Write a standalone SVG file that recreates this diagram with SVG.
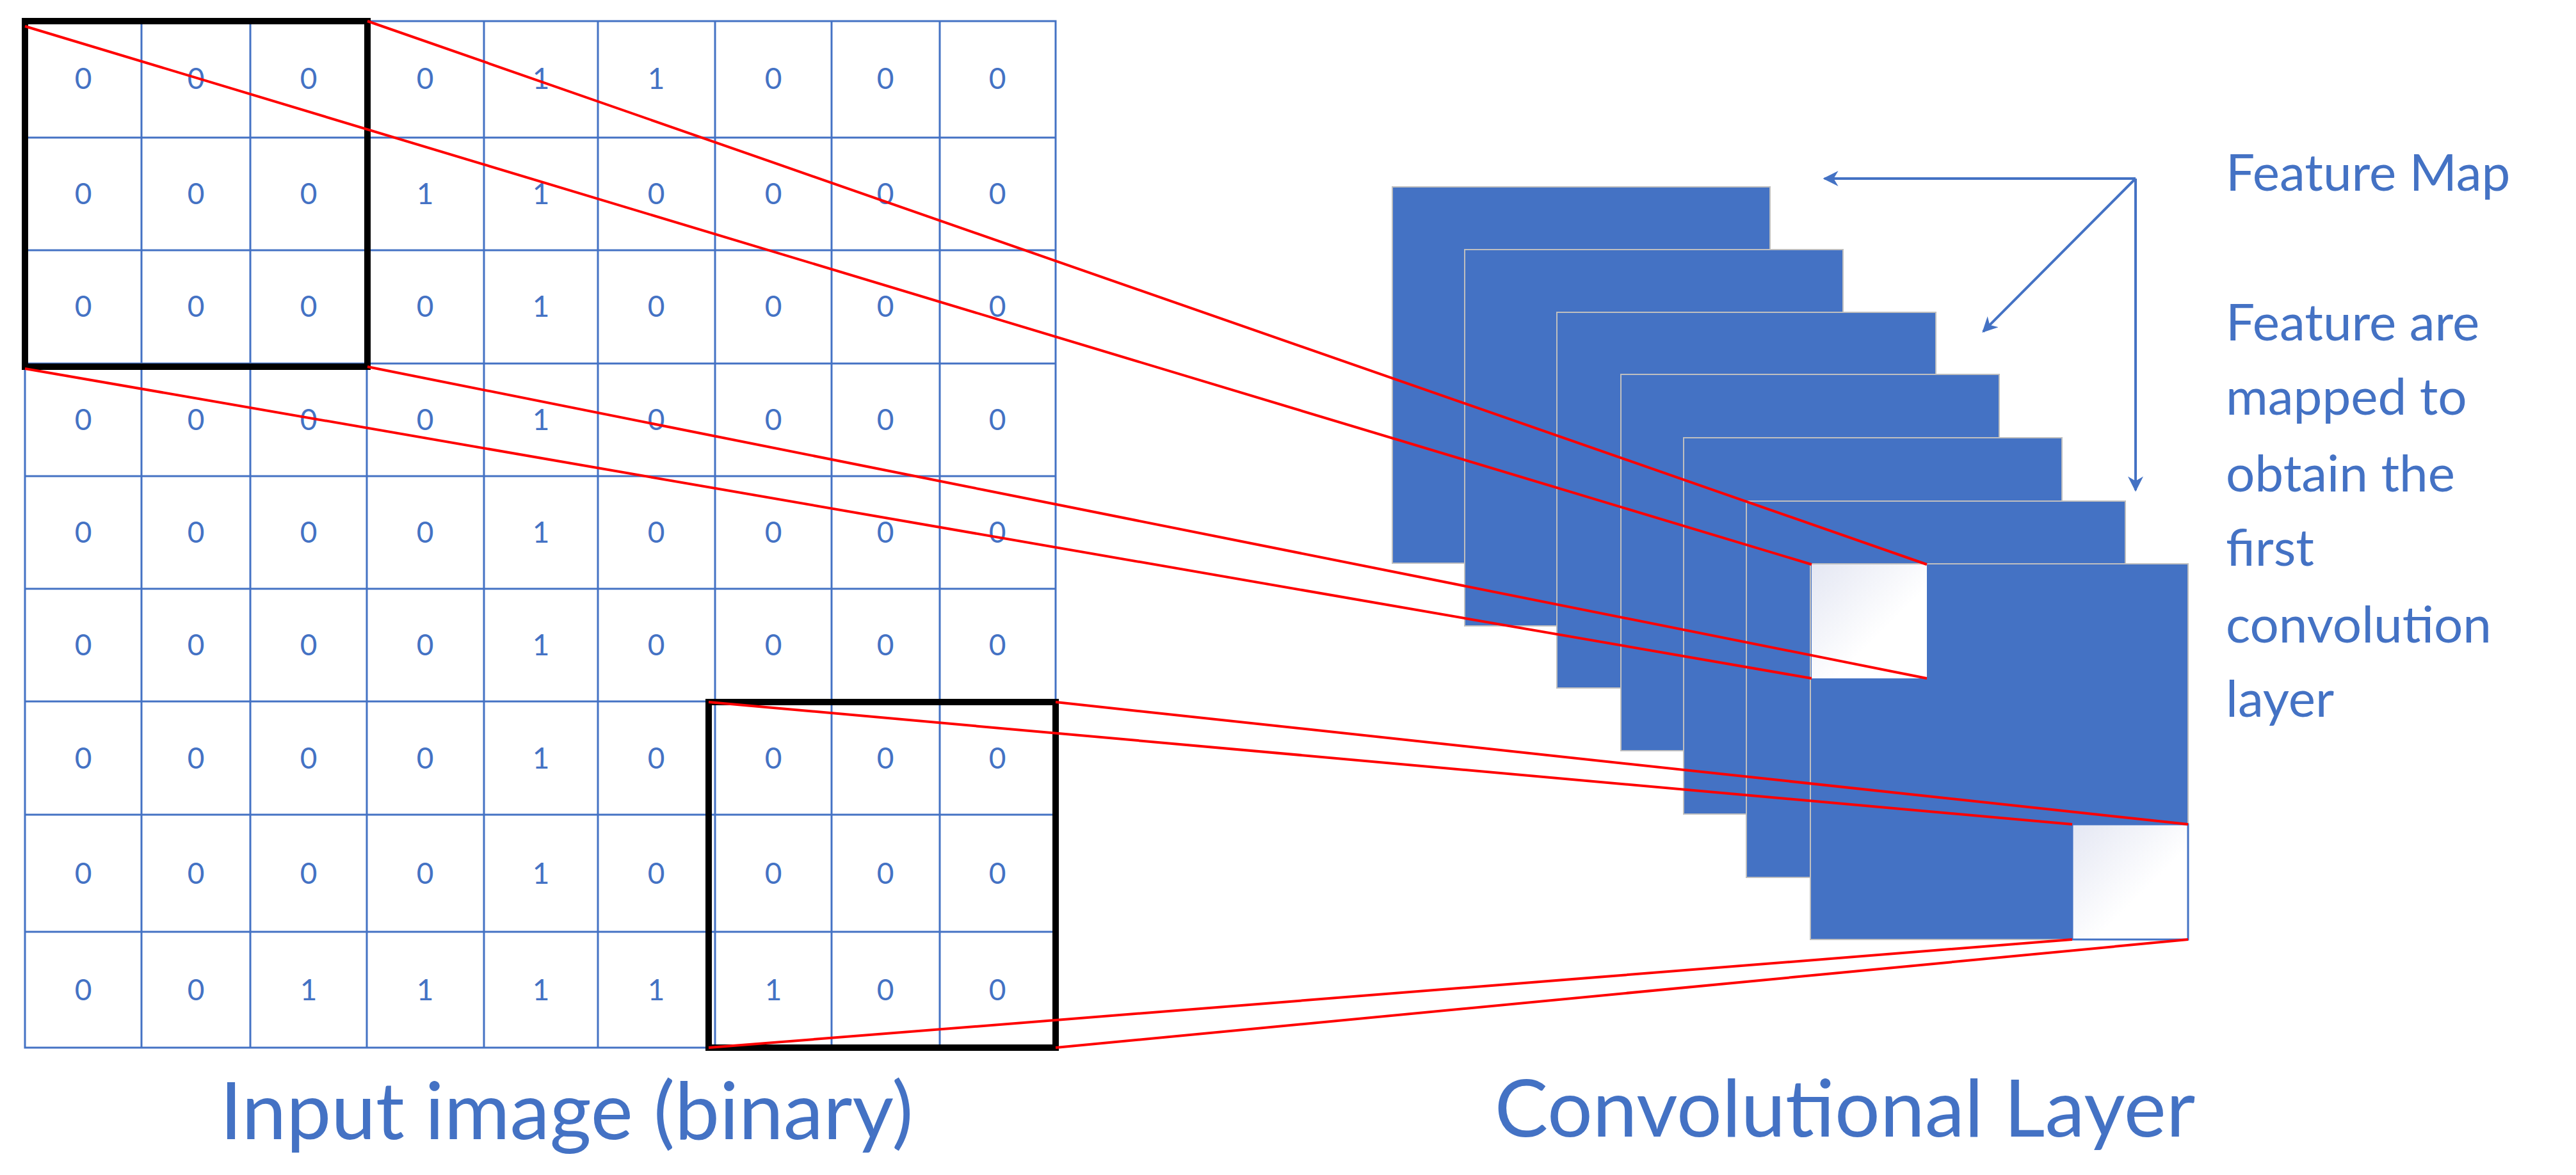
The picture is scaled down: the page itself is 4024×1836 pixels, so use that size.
<svg xmlns="http://www.w3.org/2000/svg" width="4024" height="1836" viewBox="0 0 4024 1836">
<style>
.g{stroke:#4472C4;stroke-width:3;fill:none}
.n{font-family:Lato,"Noto Sans",sans-serif;font-size:46px;fill:#4472C4;text-anchor:middle}
.t{font-family:Lato,"Noto Sans",sans-serif;fill:#4472C4}
.k{stroke:#000;stroke-width:10;fill:none}
.fm{fill:#4472C4;stroke:#BFBFBF;stroke-width:2}
.r{stroke:#FF0000;stroke-width:4;fill:none}
.a{stroke:#4472C4;stroke-width:4;fill:none}
</style>
<defs>
<marker id="ah" viewBox="0 0 10 10" refX="9" refY="5" markerWidth="6" markerHeight="6" markerUnits="strokeWidth" orient="auto"><path d="M0,0 L10,5 L0,10 L3,5 z" fill="#4472C4"/></marker>
<linearGradient id="wg" x1="0" y1="0" x2="1" y2="1"><stop offset="0" stop-color="#E4E7F3"/><stop offset="0.6" stop-color="#FFFFFF"/></linearGradient>
</defs>
<g id="grid">
<rect class="g" x="39" y="33" width="1610" height="1604"/>
<path class="g" d="M221,33V1637M391,33V1637M573,33V1637M756,33V1637M934,33V1637M1117,33V1637M1299,33V1637M1468,33V1637M39,215H1649M39,391H1649M39,568H1649M39,744H1649M39,920H1649M39,1096H1649M39,1273H1649M39,1456H1649"/>
<g class="n">
<text x="130" y="139">0</text><text x="306" y="139">0</text><text x="482" y="139">0</text><text x="664" y="139">0</text><text x="845" y="139">1</text><text x="1025" y="139">1</text><text x="1208" y="139">0</text><text x="1383" y="139">0</text><text x="1558" y="139">0</text>
<text x="130" y="319">0</text><text x="306" y="319">0</text><text x="482" y="319">0</text><text x="664" y="319">1</text><text x="845" y="319">1</text><text x="1025" y="319">0</text><text x="1208" y="319">0</text><text x="1383" y="319">0</text><text x="1558" y="319">0</text>
<text x="130" y="495">0</text><text x="306" y="495">0</text><text x="482" y="495">0</text><text x="664" y="495">0</text><text x="845" y="495">1</text><text x="1025" y="495">0</text><text x="1208" y="495">0</text><text x="1383" y="495">0</text><text x="1558" y="495">0</text>
<text x="130" y="672">0</text><text x="306" y="672">0</text><text x="482" y="672">0</text><text x="664" y="672">0</text><text x="845" y="672">1</text><text x="1025" y="672">0</text><text x="1208" y="672">0</text><text x="1383" y="672">0</text><text x="1558" y="672">0</text>
<text x="130" y="848">0</text><text x="306" y="848">0</text><text x="482" y="848">0</text><text x="664" y="848">0</text><text x="845" y="848">1</text><text x="1025" y="848">0</text><text x="1208" y="848">0</text><text x="1383" y="848">0</text><text x="1558" y="848">0</text>
<text x="130" y="1024">0</text><text x="306" y="1024">0</text><text x="482" y="1024">0</text><text x="664" y="1024">0</text><text x="845" y="1024">1</text><text x="1025" y="1024">0</text><text x="1208" y="1024">0</text><text x="1383" y="1024">0</text><text x="1558" y="1024">0</text>
<text x="130" y="1201">0</text><text x="306" y="1201">0</text><text x="482" y="1201">0</text><text x="664" y="1201">0</text><text x="845" y="1201">1</text><text x="1025" y="1201">0</text><text x="1208" y="1201">0</text><text x="1383" y="1201">0</text><text x="1558" y="1201">0</text>
<text x="130" y="1381">0</text><text x="306" y="1381">0</text><text x="482" y="1381">0</text><text x="664" y="1381">0</text><text x="845" y="1381">1</text><text x="1025" y="1381">0</text><text x="1208" y="1381">0</text><text x="1383" y="1381">0</text><text x="1558" y="1381">0</text>
<text x="130" y="1563">0</text><text x="306" y="1563">0</text><text x="482" y="1563">1</text><text x="664" y="1563">1</text><text x="845" y="1563">1</text><text x="1025" y="1563">1</text><text x="1208" y="1563">1</text><text x="1383" y="1563">0</text><text x="1558" y="1563">0</text>
</g>
</g>
<g id="kernel1"><rect class="k" x="39" y="33" width="535" height="540"/></g>
<g id="kernel2"><rect class="k" x="1107" y="1097" width="542" height="540"/></g>
<g id="featuremaps">
<rect class="fm" x="2175" y="292" width="590" height="588"/>
<rect class="fm" x="2288" y="390" width="591" height="588"/>
<rect class="fm" x="2432" y="488" width="592" height="587"/>
<rect class="fm" x="2532" y="585" width="591" height="588"/>
<rect class="fm" x="2630" y="684" width="591" height="588"/>
<rect class="fm" x="2728" y="783" width="592" height="588"/>
<rect class="fm" x="2828" y="881" width="590" height="587"/>
<rect x="2830" y="882" width="180" height="178" fill="url(#wg)"/>
<rect x="3237" y="1288" width="181" height="180" fill="url(#wg)" stroke="#4472C4" stroke-width="3"/>
</g>
<g id="connectors">
<path class="r" d="M39,41L2830,882M574,33L3010,882M39,576L2830,1060M574,573L3010,1060"/>
<path class="r" d="M1107,1097L3237,1288M1649,1097L3418,1288M1107,1637L3237,1468M1649,1637L3418,1468"/>
<path class="a" d="M3336,279H2850" marker-end="url(#ah)"/>
<path class="a" d="M3336,279L3098,518" marker-end="url(#ah)"/>
<path class="a" d="M3336,279V766" marker-end="url(#ah)"/>
</g>
<g id="labels">
<text class="t" x="885" y="1780" font-size="125" text-anchor="middle">Input image (binary)</text>
<text class="t" x="2882" y="1776" font-size="125" text-anchor="middle">Convolutional Layer</text>
<text class="t" x="3477" y="298" font-size="80">Feature Map</text>
<text class="t" x="3477" y="532" font-size="80">Feature are</text>
<text class="t" x="3477" y="648" font-size="80">mapped to</text>
<text class="t" x="3477" y="768" font-size="80">obtain the</text>
<text class="t" x="3477" y="884" font-size="80">first</text>
<text class="t" x="3477" y="1004" font-size="80">convolution</text>
<text class="t" x="3477" y="1120" font-size="80">layer</text>
</g>
</svg>
